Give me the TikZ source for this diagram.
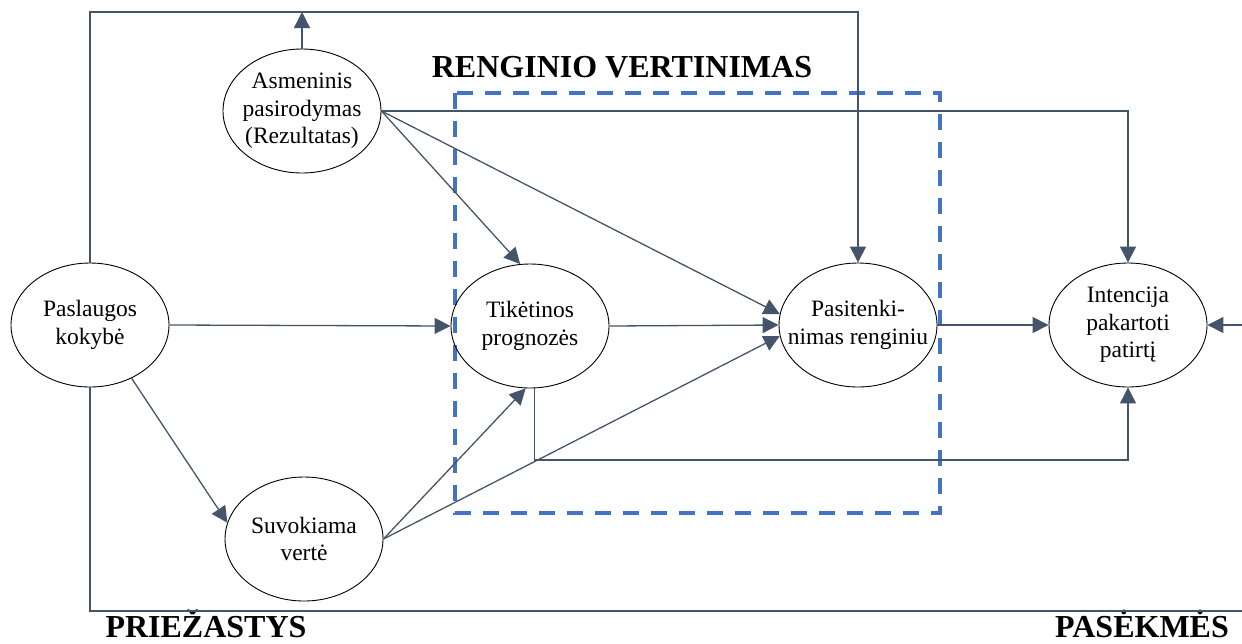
\documentclass[tikz,border=0pt]{standalone}
\usepackage{fontspec}
\setmainfont{Liberation Serif}
\usetikzlibrary{arrows.meta,shapes.geometric,calc}
\definecolor{conn}{HTML}{44546A}
\definecolor{dashblue}{HTML}{4472C4}
\begin{document}
\begin{tikzpicture}[x=1pt,y=-1pt,
  bubble/.style={ellipse,draw=black,line width=0.9pt,minimum width=158pt,minimum height=124pt,inner sep=0pt},
  btext/.style={align=center,inner sep=0pt,font=\fontsize{23.5}{27.5}\selectfont},
  link/.style={draw=conn,line width=1.3pt},
  arr/.style={link,-{Triangle[length=16pt,width=16pt]}},
  heading/.style={font=\bfseries\fontsize{32}{36}\selectfont,anchor=base,inner sep=0pt},
  evalbox/.style={draw=dashblue,line width=4pt,dash pattern=on 16pt off 12pt}]
\useasboundingbox (0,0) rectangle (1242,643);

% evaluation frame
\draw[evalbox] (455,93) rectangle (940,513);

% nodes
\node[bubble] (asm) at (302,111) {};
\node[btext] (asmT) at (asm) {Asmeninis\\pasirodymas\\(Rezultatas)};
\node[bubble] (pasl) at (90,325) {};
\node[btext] (paslT) at (pasl) {Paslaugos\\kokybė};
\node[bubble] (tik) at (530,326) {};
\node[btext] (tikT) at (tik) {Tikėtinos\\prognozės};
\node[bubble] (pas) at (858,325) {};
\node[btext] (pasT) at (pas) {Pasitenki-\\nimas renginiu};
\node[bubble] (int) at (1128,325) {};
\node[btext] (intT) at (int) {Intencija\\pakartoti\\patirtį};
\node[bubble] (suv) at (304,539) {};
\node[btext] (suvT) at (suv) {Suvokiama\\vertė};

% headings
\node[heading] (title) at (622,77) {RENGINIO VERTINIMAS};
\node[heading] (cause) at (206,637) {PRIEŽASTYS};
\node[heading] (effect) at (1142,637) {PASĖKMĖS};

% helper coordinates
\coordinate (top) at (0,12);
\coordinate (bot) at (1242,611);
\coordinate (rin) at (1242,325);
\coordinate (junc) at (0,460);

% frame lines
\draw[arr] (pasl.north) -- (pasl.north |- top) -- (pas.north |- top) -- (pas.north);
\draw[link] (pasl.south) -- (pasl.south |- bot) -- (bot);
\draw[arr] (asm.north) -- (asm.north |- top);

% connectors
\draw[arr] (asm.east) -| (int.north);
\draw[arr] (asm.east) -- (tik.99);
\draw[arr] (asm.east) -- (pas.172);
\draw[arr] (pasl.east) -- (tik.west);
\draw[arr] (pasl.308) -- (suv.168);
\draw[arr] (suv.east) -- (tik.266);
\draw[arr] (suv.east) -- (pas.188);
\draw[arr] (tik.east) -- (pas.west);
\draw[arr] (tik.274) -- (tik.274 |- junc) -| (int.south);
\draw[arr] (pas.east) -- (int.west);
\draw[arr] (rin) -- (int.east);
\end{tikzpicture}
\end{document}
